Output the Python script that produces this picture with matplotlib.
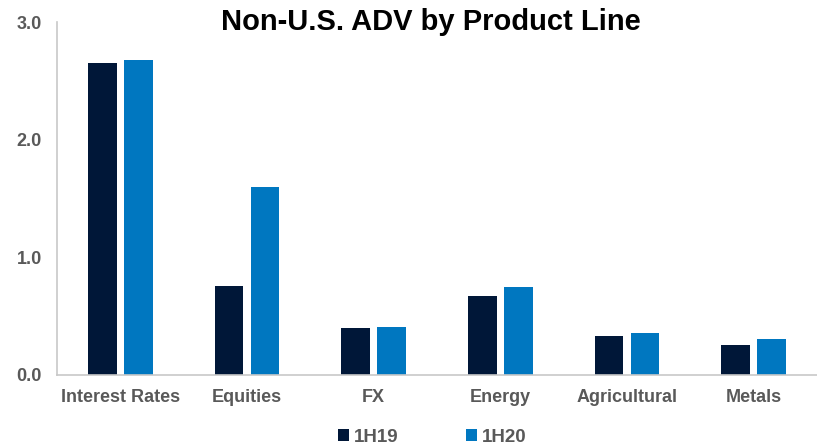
import numpy as np
import matplotlib.pyplot as plt

# Data
categories = ['Interest Rates', 'Equities', 'FX', 'Energy', 'Agricultural', 'Metals']
adv_1h19 = [2.655, 0.757, 0.395, 0.670, 0.330, 0.253]
adv_1h20 = [2.675, 1.600, 0.406, 0.746, 0.352, 0.307]
y_ticks = [0.0, 1.0, 2.0, 3.0]

navy = '#001738'
blue = '#0077C0'
gray_text = '#595959'
axis_gray = '#C8C8C8'

plt.rcParams['font.family'] = ['Liberation Sans', 'DejaVu Sans']

fig = plt.figure(figsize=(8.17, 4.45), dpi=100)
ax = fig.add_axes([57 / 817, 1 - 374.7 / 445, 1 - 57 / 817, 352.7 / 445])

x = np.arange(len(categories))
w = 0.224
off = 0.142
ax.bar(x - off, adv_1h19, w, color=navy, label='1H19')
ax.bar(x + off, adv_1h20, w, color=blue, label='1H20')

ax.set_xlim(-0.5, len(categories) - 0.5)
ax.set_ylim(0, 3.0)
ax.set_yticks(y_ticks)
ax.set_yticklabels([f'{v:.1f}' for v in y_ticks])
ax.set_xticks(x)
ax.set_xticklabels(categories)

for s in ['top', 'right']:
    ax.spines[s].set_visible(False)
for s in ['left', 'bottom']:
    ax.spines[s].set_color(axis_gray)
    ax.spines[s].set_linewidth(1.2)

ax.tick_params(axis='both', length=0, labelsize=13, labelcolor=gray_text)
ax.tick_params(axis='y', pad=11)
ax.tick_params(axis='x', pad=10)
for lbl in ax.get_xticklabels() + ax.get_yticklabels():
    lbl.set_fontweight('bold')

fig.text(431 / 817, 1 - 22 / 445, 'Non-U.S. ADV by Product Line', ha='center', va='center',
         fontsize=21, fontweight='bold', color='black')

leg = fig.legend(loc='center', bbox_to_anchor=(432 / 817, 1 - 437 / 445), ncol=2, frameon=False,
                 handlelength=0.6, handleheight=0.6, handletextpad=0.25, columnspacing=3.6,
                 prop={'size': 13.5, 'weight': 'bold'})
for t in leg.get_texts():
    t.set_color(gray_text)

fig.savefig('out.png', dpi=100)
